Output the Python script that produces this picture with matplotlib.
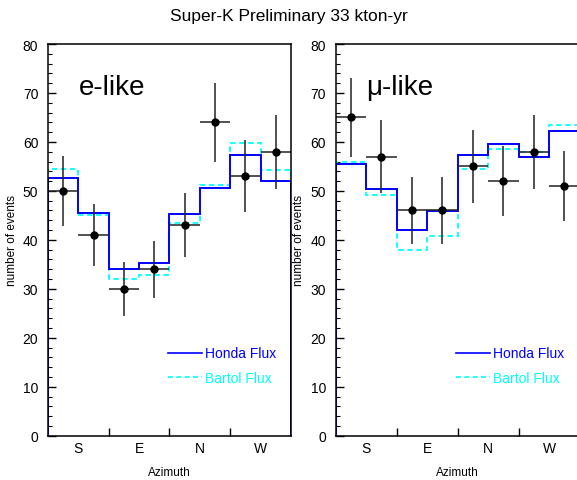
import numpy as np
import matplotlib
matplotlib.use("Agg")
import matplotlib.pyplot as plt
import matplotlib.ticker as mticker
from matplotlib.lines import Line2D

plt.rcParams["font.family"] = ["Liberation Sans", "DejaVu Sans"]

# azimuth bins (8 bins, labels at the centre of each pair)
bin_edges = np.arange(9)
dir_labels = ["S", "E", "N", "W"]

# e-like
e_honda = [52.7, 45.5, 34.1, 35.3, 45.2, 50.6, 57.3, 52.0]
e_bartol = [54.5, 45.0, 32.0, 32.9, 43.4, 51.3, 59.8, 54.2]
e_data = [50, 41, 30, 34, 43, 64, 53, 58]
e_err = [7.1, 6.4, 5.5, 5.8, 6.6, 8.0, 7.3, 7.6]

# mu-like
mu_honda = [55.4, 50.4, 42.0, 45.8, 57.4, 59.5, 57.0, 62.3]
mu_bartol = [56.0, 49.2, 37.9, 40.7, 54.4, 58.5, 58.0, 63.5]
mu_data = [65, 57, 46, 46, 55, 52, 58, 51]
mu_err = [8.1, 7.5, 6.8, 6.8, 7.4, 7.2, 7.6, 7.1]

honda_col = "#0000ff"
bartol_col = "#00ffff"


def draw_panel(ax, honda, bartol, data, err, name):
    ax.stairs(bartol, bin_edges, color=bartol_col, lw=1.3, ls=(0, (3, 2)), zorder=2)
    ax.stairs(honda, bin_edges, baseline=0, color=honda_col, lw=1.4, zorder=3)
    centers = (bin_edges[:-1] + bin_edges[1:]) / 2
    ax.errorbar(centers, data, yerr=err, xerr=0.5, fmt="o", color="black",
                ecolor="#222222", elinewidth=1.1, ms=5, capsize=0, zorder=4)

    ax.set_xlim(0, 8)
    ax.set_ylim(0, 80)
    ax.xaxis.set_major_locator(mticker.FixedLocator([2, 4, 6]))
    ax.xaxis.set_major_formatter(mticker.NullFormatter())
    ax.xaxis.set_minor_locator(mticker.FixedLocator([1, 3, 5, 7]))
    ax.xaxis.set_minor_formatter(mticker.FixedFormatter(dir_labels))
    ax.tick_params(axis="x", which="major", direction="in", length=6, width=1)
    ax.tick_params(axis="x", which="minor", length=0, pad=4, labelsize=10)
    ax.yaxis.set_major_locator(mticker.MultipleLocator(10))
    ax.yaxis.set_minor_locator(mticker.MultipleLocator(2))
    ax.tick_params(axis="y", which="major", direction="in", length=6, width=1,
                   labelsize=10, pad=7)
    ax.tick_params(axis="y", which="minor", direction="in", length=3, width=0.8)
    ax.tick_params(right=False, top=False)
    for sp in ax.spines.values():
        sp.set_linewidth(1.1)
        sp.set_zorder(5)

    ax.set_xlabel("Azimuth", fontsize=8.5)
    ax.xaxis.set_label_coords(0.5, -0.078)
    ax.set_ylabel("number of events", fontsize=8.5)
    ax.yaxis.set_label_coords(-0.125, 0.5)

    ax.text(0.125, 0.872, name, transform=ax.transAxes, fontsize=20,
            va="baseline", ha="left")

    parts = [Line2D([], [], color=honda_col, lw=1.2, label="Honda Flux"),
             Line2D([], [], color=bartol_col, lw=1.2, ls=(0, (3, 2)), label="Bartol Flux")]
    ax.legend(handles=parts, loc="upper left", bbox_to_anchor=(0.495, 0.228),
              frameon=False, fontsize=10, handlelength=2.4, handletextpad=0.25,
              labelspacing=0.75, borderpad=0, borderaxespad=0,
              labelcolor=[honda_col, bartol_col])


fig = plt.figure(figsize=(5.77, 4.81), dpi=100)
ax1 = fig.add_axes([0.0832, 0.0921, 0.4211, 0.8143])
ax2 = fig.add_axes([0.5818, 0.0921, 0.4229, 0.8143])

draw_panel(ax1, e_honda, e_bartol, e_data, e_err, "e-like")
draw_panel(ax2, mu_honda, mu_bartol, mu_data, mu_err, "\u03bc-like")

fig.text(0.5, 0.957, "Super-K Preliminary 33 kton-yr", ha="center",
         va="baseline", fontsize=12.5)

fig.savefig("out.png", dpi=100)
